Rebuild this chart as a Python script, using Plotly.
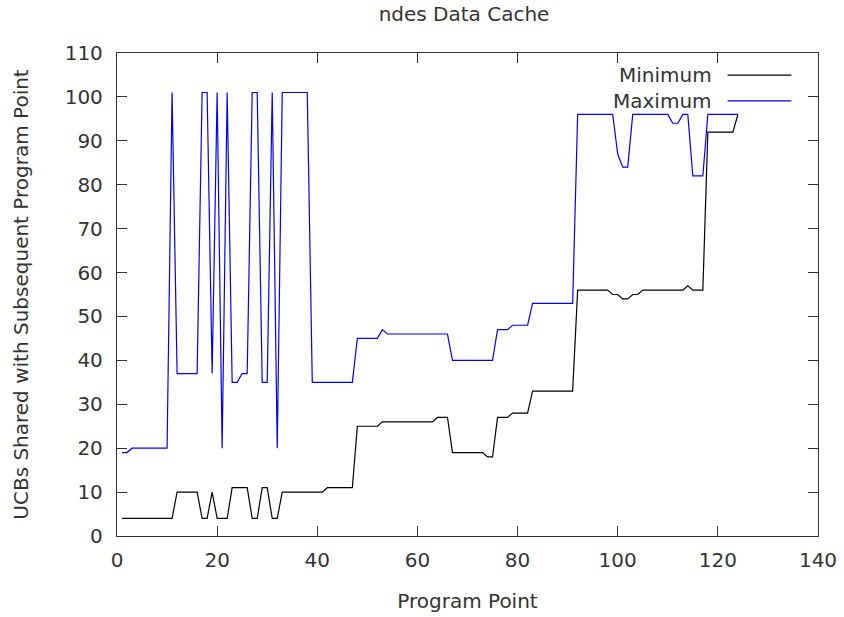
import plotly.graph_objects as go

program_point = list(range(1, 125))

minimum = (
    [4] * 11 + [10] * 5 + [4, 4, 10, 4, 4, 4] + [11] * 4 + [4, 4, 11, 11, 4, 4]
    + [10] * 9 + [11] * 6 + [25] * 5 + [26] * 11 + [27] * 3 + [19] * 7 + [18, 18]
    + [27] * 3 + [28] * 4 + [33] * 9 + [56] * 7 + [55, 55, 54, 54, 55, 55]
    + [56] * 9 + [57] + [56] * 3 + [92] * 6 + [96]
)

maximum = (
    [19, 19] + [20] * 8 + [101] + [37] * 5 + [101, 101, 37, 101, 20, 101, 35, 35, 37, 37, 101, 101, 35, 35, 101, 20]
    + [101] * 6 + [35] * 9 + [45] * 5 + [47] + [46] * 13 + [40] * 9 + [47] * 3 + [48] * 4
    + [53] * 9 + [96] * 8 + [87, 84, 84] + [96] * 8 + [94, 94, 96, 96] + [82] * 3 + [96] * 7
)

title_text = "ndes Data Cache"
x_label = "Program Point"
y_label = "UCBs Shared with Subsequent Program Point"
series_names = ["Minimum", "Maximum"]
series_colors = ["#000000", "#0000ff"]

FONT = "DejaVu Sans"
TXT = "#333333"

fig = go.Figure()
for name, ys, col in zip(series_names, [minimum, maximum], series_colors):
    fig.add_trace(go.Scatter(x=program_point, y=ys, mode="lines", name=name,
                             line=dict(color=col, width=1.2), showlegend=False))

# gnuplot-style legend (text then line sample)
leg_y = [0.954, 0.901]
for name, col, yy in zip(series_names, series_colors, leg_y):
    fig.add_annotation(x=0.852, y=yy, xref="paper", yref="paper", text=name,
                       showarrow=False, xanchor="right", yanchor="middle",
                       font=dict(family=FONT, size=20, color=TXT))
    fig.add_shape(type="line", xref="paper", yref="paper", x0=0.871, x1=0.962,
                  y0=yy, y1=yy, line=dict(color=col, width=1.2))

axis_common = dict(showline=True, linecolor="#333333", linewidth=1.3, mirror="ticks",
                   ticks="inside", ticklen=10, tickcolor="#333333", tickwidth=1.3,
                   showgrid=False, zeroline=False, automargin=False,
                   tickfont=dict(family=FONT, size=20, color=TXT))

fig.update_layout(
    width=844, height=617,
    margin=dict(l=117, r=26, t=53, b=81),
    paper_bgcolor="white", plot_bgcolor="white",
    title=dict(text=title_text, x=0.5498, xanchor="center", y=0.9773, yanchor="middle",
               font=dict(family=FONT, size=20, color=TXT)),
    xaxis=dict(range=[0, 140], dtick=20, ticklabelstandoff=6, **axis_common,
               title=dict(text=x_label, standoff=22,
                          font=dict(family=FONT, size=20, color=TXT))),
    yaxis=dict(range=[0, 110], dtick=10, ticklabelstandoff=9, **axis_common,
               title=dict(text=y_label, standoff=30,
                          font=dict(family=FONT, size=20, color=TXT))),
)

fig.write_html("out.html", config={"displayModeBar": False},
               post_script="document.body.style.margin='0';")
